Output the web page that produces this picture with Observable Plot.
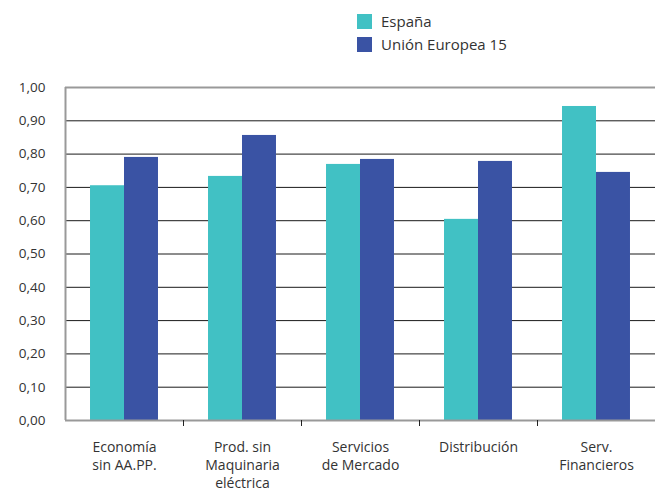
<!DOCTYPE html>
<html>
<head>
<meta charset="utf-8">
<script src="https://cdn.jsdelivr.net/npm/d3@7"></script>
<script src="https://cdn.jsdelivr.net/npm/@observablehq/plot@0.6"></script>
<style>
  body { margin: 0; background: #fff; font-family: "Open Sans", sans-serif; }
  #wrap { position: relative; width: 656px; height: 492px; }
  #legend { position: relative; height: 60px; width: 656px; }
  .li { position: absolute; left: 357px; display: flex; align-items: center; font-size: 15px; color: #333; }
  .sw { width: 15px; height: 15px; margin-right: 9px; }
</style>
</head>
<body>
<div id="wrap">
  <div id="legend"></div>
  <div id="chart"></div>
</div>
<script>
const categories = ["Economía\nsin AA.PP.", "Prod. sin\nMaquinaria\neléctrica", "Servicios\nde Mercado", "Distribución", "Serv.\nFinancieros"];
const series = ["España", "Unión Europea 15"];
const espana = [0.705, 0.733, 0.769, 0.604, 0.943];
const ue15 = [0.790, 0.856, 0.784, 0.778, 0.745];
const colors = ["#41c1c4", "#3a53a4"];
const yTicks = [0, 0.1, 0.2, 0.3, 0.4, 0.5, 0.6, 0.7, 0.8, 0.9, 1.0];

// legend
const legend = document.getElementById("legend");
series.forEach((s, i) => {
  const d = document.createElement("div");
  d.className = "li";
  d.style.top = (11 + i * 23) + "px";
  d.innerHTML = `<span class="sw" style="background:${colors[i]}"></span><span>${s}</span>`;
  legend.appendChild(d);
});

const rows = [];
categories.forEach((c, i) => {
  rows.push({i, s: series[0], v: espana[i]});
  rows.push({i, s: series[1], v: ue15[i]});
});
const half = 0.288;

const plot = Plot.plot({
  width: 656,
  height: 432,
  marginTop: 27,
  marginBottom: 72,
  marginLeft: 65,
  marginRight: 1,
  style: {fontFamily: "Open Sans, sans-serif", fontSize: "13px", color: "#333"},
  x: {domain: [0, 5], axis: null},
  y: {domain: [0, 1], axis: null},
  color: {domain: series, range: colors},
  marks: [
    Plot.gridY(yTicks.filter(t => t > 0.05 && t < 0.95), {stroke: "#1a1a1a", strokeOpacity: 1, strokeWidth: 1}),
    Plot.rectY(rows, {
      x1: d => d.i + 0.5 + (d.s === series[0] ? -half : 0),
      x2: d => d.i + 0.5 + (d.s === series[0] ? 0 : half),
      y1: 0, y2: "v", fill: "s"
    }),
    Plot.ruleY([0, 1], {stroke: "#999", strokeWidth: 2}),
    Plot.ruleX([0], {stroke: "#999", strokeWidth: 2}),
    Plot.axisY({ticks: yTicks, tickSize: 0, tickPadding: 20, label: null,
      tickFormat: d => d.toFixed(2).replace(".", ","), fontSize: 13.5, fill: "#333"}),
    Plot.axisX({ticks: [1, 2, 3, 4], tickSize: 6, tickFormat: () => "", stroke: "#222", tickPadding: 0, label: null}),
    Plot.text(categories, {x: (d, i) => i + 0.5, y: 0, dy: 19, lineAnchor: "top",
      lineHeight: 1.28, text: d => d, fontSize: 14, fill: "#333"})
  ]
});
document.getElementById("chart").appendChild(plot);
</script>
</body>
</html>
